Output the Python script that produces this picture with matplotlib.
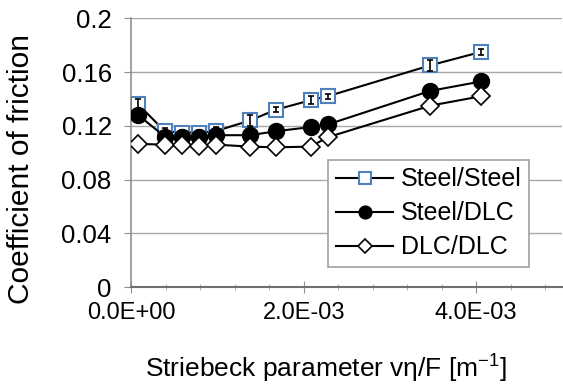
import matplotlib
matplotlib.use("Agg")
import matplotlib.pyplot as plt
from matplotlib.ticker import MultipleLocator, FuncFormatter

plt.rcParams['font.family'] = ['Liberation Sans', 'DejaVu Sans']

x = [0.08e-3, 0.39e-3, 0.59e-3, 0.79e-3, 0.98e-3, 1.38e-3, 1.68e-3, 2.08e-3, 2.28e-3, 3.47e-3, 4.06e-3]
steel_steel = [0.136, 0.116, 0.115, 0.115, 0.116, 0.124, 0.132, 0.139, 0.142, 0.165, 0.175]
steel_steel_err = [0.004, 0.002, 0.002, 0.002, 0.003, 0.004, 0.002, 0.003, 0.002, 0.004, 0.002]
steel_dlc = [0.128, 0.112, 0.112, 0.112, 0.113, 0.113, 0.116, 0.119, 0.121, 0.146, 0.153]
steel_dlc_err = [0.003, 0.002, 0.002, 0.002, 0.002, 0.003, 0.002, 0.004, 0.002, 0.002, 0.002]
dlc_dlc = [0.1065, 0.106, 0.106, 0.105, 0.106, 0.1045, 0.104, 0.1045, 0.1115, 0.135, 0.142]
labels = ['Steel/Steel', 'Steel/DLC', 'DLC/DLC']

fig = plt.figure(figsize=(5.63, 3.88), dpi=100)
ax = fig.add_axes([0.233, 0.26, 0.766, 0.693])

h1, = ax.plot(x, steel_steel, color='black', lw=1.5, marker='s', ms=10, mfc='white',
              mec='#4F81BD', mew=1.5, label=labels[0], zorder=3)
ax.errorbar(x, steel_steel, yerr=steel_steel_err, fmt='none', ecolor='black',
            elinewidth=1.2, capsize=2.5, capthick=1.2, zorder=3.5)
h2, = ax.plot(x, steel_dlc, color='black', lw=1.5, marker='o', ms=11.5, mfc='black',
              mec='black', label=labels[1], zorder=4)
ax.errorbar(x, steel_dlc, yerr=steel_dlc_err, fmt='none', ecolor='black',
            elinewidth=1.2, capsize=2.5, capthick=1.2, zorder=4.5)
h3, = ax.plot(x, dlc_dlc, color='black', lw=1.5, marker='D', ms=9, mfc='white',
              mec='black', mew=1.2, label=labels[2], zorder=5)

ax.set_xlim(0, 5e-3)
ax.set_ylim(0, 0.2)
ax.yaxis.set_major_locator(MultipleLocator(0.04))
ax.xaxis.set_major_locator(MultipleLocator(2e-3))
ax.xaxis.set_minor_locator(MultipleLocator(0.4e-3))

def yfmt(v, p):
    if abs(v) < 1e-9:
        return '0'
    return ('%.2f' % v).rstrip('0').rstrip('.')
ax.yaxis.set_major_formatter(FuncFormatter(yfmt))
ax.xaxis.set_major_formatter(FuncFormatter(lambda v, p: '%.1E' % v))

ax.grid(axis='y', color='#A8A8A8', lw=1)
ax.set_axisbelow(True)
for s in ['top', 'right']:
    ax.spines[s].set_visible(False)
ax.spines['left'].set_color('#909090')
ax.spines['bottom'].set_color('#707070')
ax.spines['left'].set_linewidth(1.2)
ax.spines['bottom'].set_linewidth(1.5)

ax.tick_params(axis='y', which='major', length=5, color='#909090', labelsize=18.5, pad=9)
ax.tick_params(axis='x', which='major', length=9, direction='inout', color='#909090', labelsize=17, pad=6)
ax.tick_params(axis='x', which='minor', length=5, direction='inout', color='#A0A0A0')

ax.set_ylabel('Coefficient of friction', fontsize=21.5)
ax.yaxis.set_label_coords(-0.255, 0.44)
ax.yaxis.label.set_va('center')
ax.set_xlabel('Striebeck parameter v\u03b7/F [m$^{\\mathregular{-1}}$]', fontsize=19)
ax.xaxis.set_label_coords(0.451, -0.298)
ax.xaxis.label.set_va('center')

leg = ax.legend([h1, h2, h3], labels, loc='upper left', bbox_to_anchor=(0.457, 0.473),
                borderaxespad=0, fontsize=18, frameon=True, fancybox=False,
                edgecolor='#A0A0A0', framealpha=1, handlelength=2.3, borderpad=0.3,
                labelspacing=0.4, handletextpad=0.3, markerscale=0.8)
leg.get_frame().set_linewidth(1.2)

fig.savefig('out.png', dpi=100)
